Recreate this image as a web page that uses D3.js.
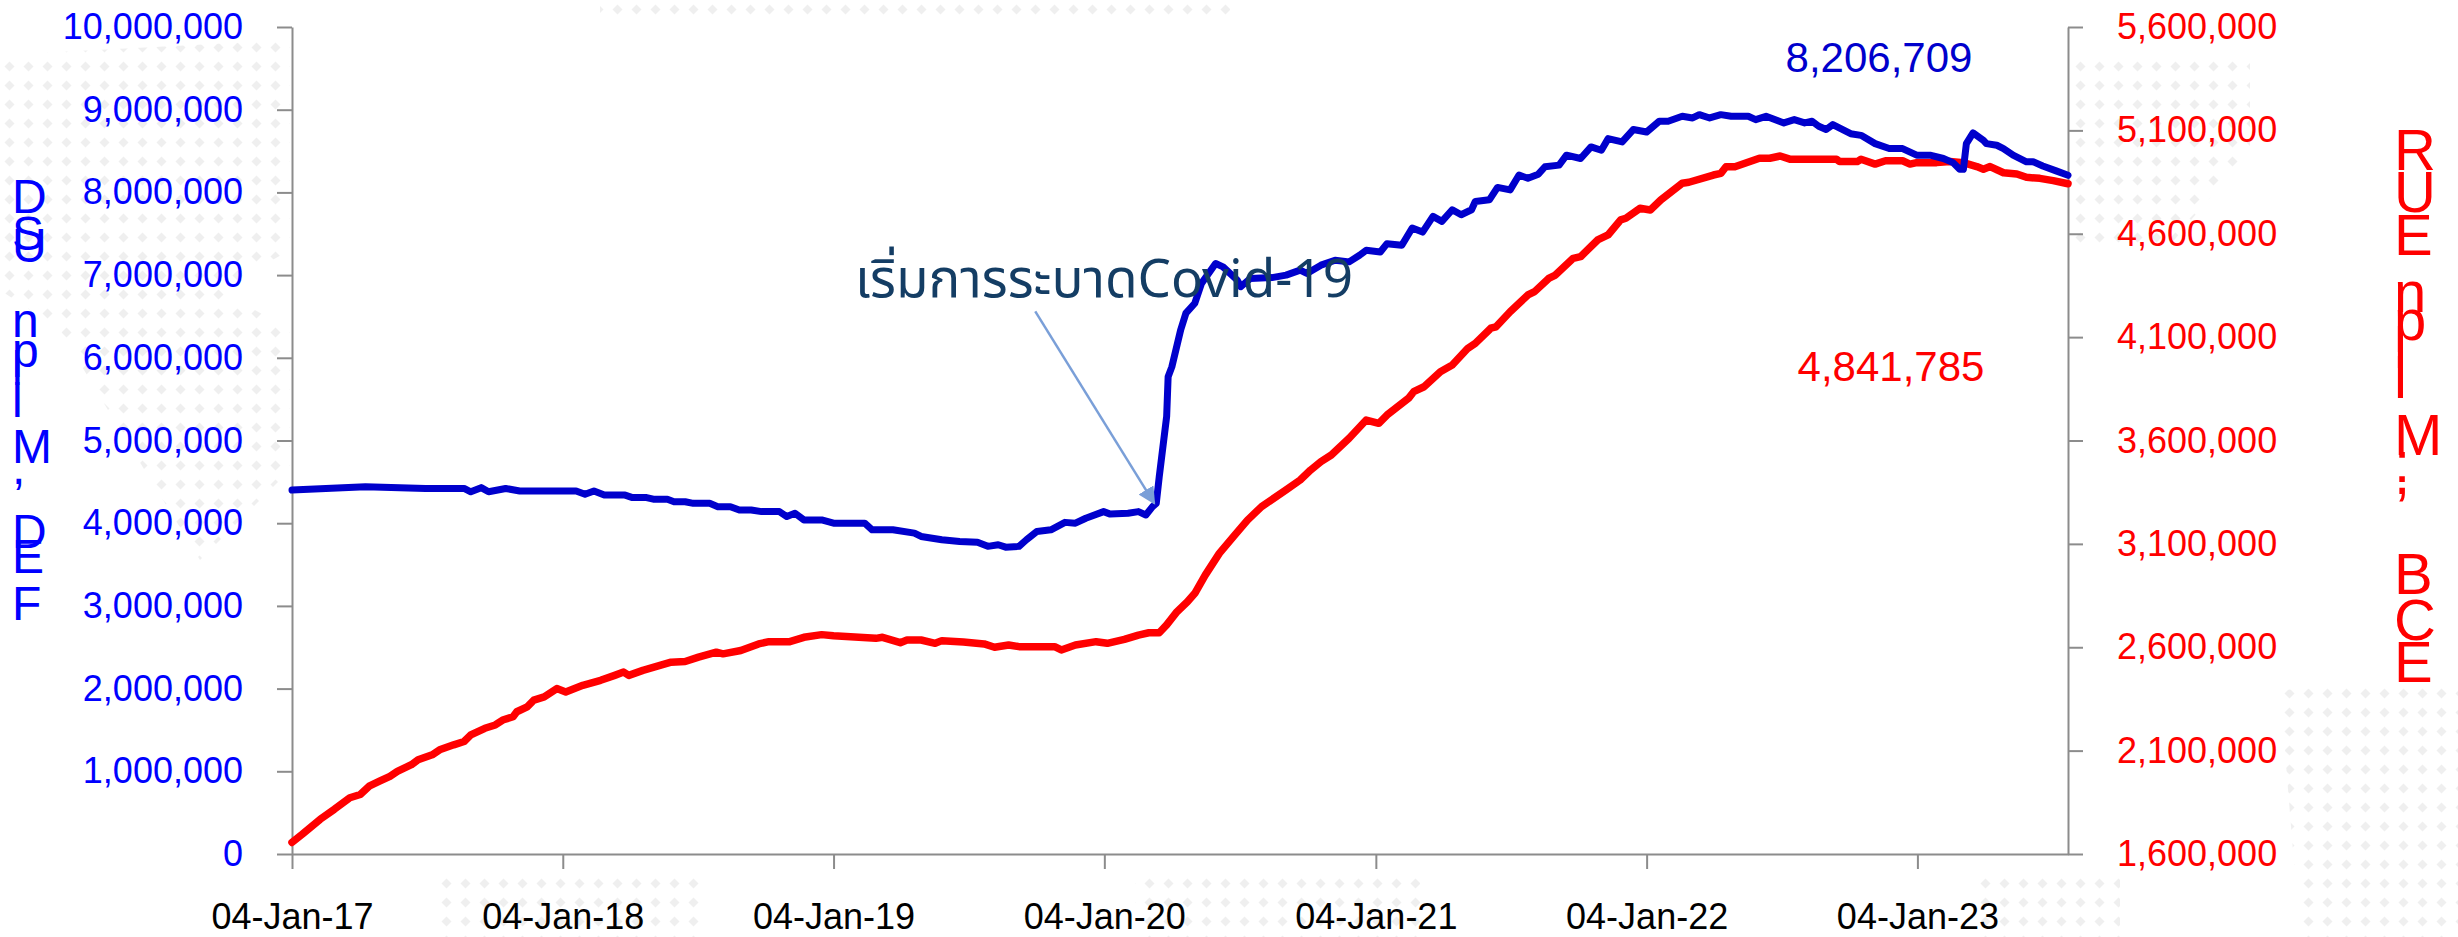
<!DOCTYPE html>
<html>
<head>
<meta charset="utf-8">
<script src="https://cdn.jsdelivr.net/npm/d3@7"></script>
<style>
  html, body { margin: 0; padding: 0; background: #fff; }
  svg { display: block; }
  .tick text { font-family: "Liberation Sans", Arial, sans-serif; }
</style>
</head>
<body>
<svg width="2458" height="937"></svg>
<script>
// tick labels / categories
const yearTicks = ['2017-01-04', '2018-01-04', '2019-01-04', '2020-01-04', '2021-01-04', '2022-01-04', '2023-01-04']
const leftTicks = [0, 1e6, 2e6, 3e6, 4e6, 5e6, 6e6, 7e6, 8e6, 9e6, 10e6]
const rightTicks = [1.6e6, 2.1e6, 2.6e6, 3.1e6, 3.6e6, 4.1e6, 4.6e6, 5.1e6, 5.6e6]

// blue series (left axis), values in millions
const blueDates = [
  '2017-01-04', '2017-04-13', '2017-07-03', '2017-08-24', '2017-09-02', '2017-09-16', '2017-09-26', '2017-10-19',
  '2017-11-07', '2017-12-20', '2018-01-22', '2018-02-03', '2018-02-15', '2018-03-01', '2018-03-29', '2018-04-08',
  '2018-04-27', '2018-05-06', '2018-05-25', '2018-06-03', '2018-06-18', '2018-06-29', '2018-07-21', '2018-08-01',
  '2018-08-18', '2018-08-30', '2018-09-15', '2018-09-29', '2018-10-23', '2018-11-02', '2018-11-13', '2018-11-25',
  '2018-12-19', '2019-01-04', '2019-02-15', '2019-02-25', '2019-03-25', '2019-04-23', '2019-05-02', '2019-05-30',
  '2019-06-23', '2019-07-17', '2019-07-31', '2019-08-14', '2019-08-24', '2019-09-11', '2019-09-21', '2019-10-05',
  '2019-10-24', '2019-11-12', '2019-11-26', '2019-12-10', '2020-01-03', '2020-01-12', '2020-02-05', '2020-02-19',
  '2020-02-29', '2020-03-09', '2020-03-14', '2020-03-18', '2020-03-28', '2020-03-30', '2020-04-04', '2020-04-16',
  '2020-04-23', '2020-05-05', '2020-05-14', '2020-06-02', '2020-06-12', '2020-07-01', '2020-07-06', '2020-07-19',
  '2020-08-17', '2020-09-05', '2020-09-24', '2020-10-03', '2020-10-22', '2020-11-10', '2020-11-29', '2020-12-13',
  '2020-12-22', '2021-01-10', '2021-01-19', '2021-02-08', '2021-02-22', '2021-03-08', '2021-03-22', '2021-04-03',
  '2021-04-17', '2021-04-29', '2021-05-13', '2021-05-18', '2021-06-06', '2021-06-17', '2021-07-04', '2021-07-16',
  '2021-07-28', '2021-08-11', '2021-08-20', '2021-09-08', '2021-09-18', '2021-10-07', '2021-10-21', '2021-11-04',
  '2021-11-13', '2021-12-02', '2021-12-17', '2022-01-04', '2022-01-21', '2022-02-02', '2022-02-21', '2022-03-07',
  '2022-03-16', '2022-03-30', '2022-04-14', '2022-04-28', '2022-05-21', '2022-05-31', '2022-06-14', '2022-07-08',
  '2022-07-22', '2022-08-05', '2022-08-15', '2022-08-24', '2022-09-03', '2022-09-12', '2022-10-06', '2022-10-20',
  '2022-11-08', '2022-11-27', '2022-12-15', '2023-01-03', '2023-01-21', '2023-02-08', '2023-02-21', '2023-03-02',
  '2023-03-07', '2023-03-11', '2023-03-20', '2023-04-03', '2023-04-07', '2023-04-21', '2023-04-30', '2023-05-13',
  '2023-05-31', '2023-06-09', '2023-06-22', '2023-07-10', '2023-07-26'
]
const blueValues = [
  4.40, 4.44, 4.42, 4.42, 4.38, 4.43, 4.38, 4.42,
  4.39, 4.39, 4.39, 4.35, 4.39, 4.34, 4.34, 4.31,
  4.31, 4.29, 4.29, 4.26, 4.26, 4.24, 4.24, 4.20,
  4.20, 4.16, 4.16, 4.14, 4.14, 4.08, 4.12, 4.04,
  4.04, 4.00, 4.00, 3.92, 3.92, 3.88, 3.84, 3.80,
  3.78, 3.77, 3.72, 3.74, 3.71, 3.72, 3.80, 3.90,
  3.92, 4.01, 4.00, 4.06, 4.14, 4.11, 4.12, 4.14,
  4.10, 4.20, 4.24, 4.56, 5.29, 5.77, 5.89, 6.34,
  6.54, 6.66, 6.90, 7.14, 7.10, 6.94, 6.86, 6.96,
  6.97, 7.00, 7.06, 7.02, 7.12, 7.18, 7.16, 7.24,
  7.30, 7.28, 7.38, 7.36, 7.57, 7.52, 7.71, 7.65,
  7.79, 7.73, 7.79, 7.89, 7.91, 8.06, 8.03, 8.21,
  8.17, 8.22, 8.31, 8.33, 8.45, 8.41, 8.55, 8.51,
  8.65, 8.61, 8.76, 8.73, 8.86, 8.86, 8.92, 8.90,
  8.94, 8.90, 8.94, 8.92, 8.92, 8.88, 8.92, 8.84,
  8.88, 8.84, 8.86, 8.80, 8.76, 8.82, 8.71, 8.69,
  8.59, 8.53, 8.53, 8.45, 8.45, 8.41, 8.36, 8.28,
  8.28, 8.59, 8.72, 8.63, 8.59, 8.57, 8.53, 8.45,
  8.37, 8.37, 8.32, 8.26, 8.206709
]

// red series (right axis), values in millions
const redDates = [
  '2017-01-04', '2017-01-18', '2017-02-11', '2017-03-02', '2017-03-23', '2017-04-06', '2017-04-18', '2017-05-02',
  '2017-05-16', '2017-05-26', '2017-06-14', '2017-06-23', '2017-07-12', '2017-07-22', '2017-08-10', '2017-08-24',
  '2017-09-02', '2017-09-21', '2017-10-05', '2017-10-15', '2017-10-29', '2017-11-03', '2017-11-17', '2017-11-26',
  '2017-12-10', '2017-12-27', '2018-01-08', '2018-01-31', '2018-02-24', '2018-03-15', '2018-03-27', '2018-04-03',
  '2018-04-22', '2018-05-15', '2018-05-30', '2018-06-18', '2018-07-06', '2018-07-30', '2018-08-08', '2018-09-01',
  '2018-09-25', '2018-10-09', '2018-11-06', '2018-11-25', '2018-12-19', '2019-01-04', '2019-03-02', '2019-03-11',
  '2019-04-04', '2019-04-13', '2019-05-02', '2019-05-21', '2019-05-30', '2019-06-28', '2019-07-26', '2019-08-09',
  '2019-08-28', '2019-09-11', '2019-10-29', '2019-11-07', '2019-11-26', '2019-12-24', '2020-01-08', '2020-01-31',
  '2020-02-19', '2020-03-04', '2020-03-18', '2020-03-28', '2020-04-11', '2020-04-25', '2020-05-05', '2020-05-19',
  '2020-06-07', '2020-06-26', '2020-07-15', '2020-08-03', '2020-09-05', '2020-09-24', '2020-10-08', '2020-10-22',
  '2020-11-05', '2020-11-29', '2020-12-22', '2021-01-08', '2021-01-19', '2021-02-17', '2021-02-24', '2021-03-10',
  '2021-04-01', '2021-04-17', '2021-05-08', '2021-05-18', '2021-06-08', '2021-06-15', '2021-07-04', '2021-07-28',
  '2021-08-06', '2021-08-25', '2021-09-03', '2021-09-27', '2021-10-07', '2021-10-30', '2021-11-13', '2021-11-30',
  '2021-12-07', '2021-12-26', '2022-01-09', '2022-01-23', '2022-02-21', '2022-03-02', '2022-04-04', '2022-04-14',
  '2022-04-21', '2022-05-03', '2022-06-05', '2022-06-19', '2022-07-03', '2022-07-17', '2022-09-17', '2022-09-21',
  '2022-10-15', '2022-10-20', '2022-11-08', '2022-11-22', '2022-12-15', '2022-12-25', '2023-01-03', '2023-01-30',
  '2023-02-17', '2023-03-07', '2023-03-25', '2023-04-03', '2023-04-12', '2023-04-30', '2023-05-18', '2023-05-31',
  '2023-06-18', '2023-07-06', '2023-07-26'
]
const redValues = [
  1.656, 1.696, 1.768, 1.816, 1.872, 1.888, 1.928, 1.952,
  1.976, 2.000, 2.032, 2.056, 2.080, 2.104, 2.128, 2.144,
  2.176, 2.208, 2.224, 2.248, 2.264, 2.288, 2.312, 2.344,
  2.360, 2.400, 2.384, 2.416, 2.440, 2.464, 2.480, 2.464,
  2.488, 2.512, 2.528, 2.531, 2.552, 2.576, 2.568, 2.584,
  2.616, 2.627, 2.627, 2.648, 2.661, 2.656, 2.643, 2.648,
  2.622, 2.635, 2.635, 2.619, 2.632, 2.625, 2.616, 2.600,
  2.611, 2.603, 2.603, 2.587, 2.611, 2.627, 2.619, 2.638,
  2.659, 2.670, 2.670, 2.708, 2.772, 2.820, 2.861, 2.949,
  3.054, 3.135, 3.215, 3.280, 3.361, 3.409, 3.457, 3.498,
  3.530, 3.611, 3.699, 3.683, 3.723, 3.804, 3.836, 3.860,
  3.933, 3.965, 4.046, 4.070, 4.143, 4.150, 4.223, 4.304,
  4.320, 4.384, 4.400, 4.481, 4.489, 4.570, 4.594, 4.667,
  4.675, 4.723, 4.715, 4.763, 4.844, 4.849, 4.884, 4.892,
  4.924, 4.924, 4.965, 4.965, 4.976, 4.960, 4.960, 4.949,
  4.949, 4.960, 4.937, 4.953, 4.953, 4.937, 4.944, 4.944,
  4.949, 4.944, 4.925, 4.912, 4.925, 4.895, 4.889, 4.873,
  4.868, 4.857, 4.841785
]

const covidDate = '2020-03-14'
const covidText = 'เริ่มการระบาดCovid-19'

const parse = d3.timeParse('%Y-%m-%d')
const blue = blueDates.map((d, i) => ({ date: parse(d), value: blueValues[i] * 1e6 }))
const red = redDates.map((d, i) => ({ date: parse(d), value: redValues[i] * 1e6 }))

const plotLeft = 292, plotRight = 2068, plotTop = 27, plotBottom = 854

const x = d3.scaleTime().domain([parse('2017-01-04'), parse('2023-07-26')]).range([plotLeft, plotRight])
const yLeft = d3.scaleLinear().domain([0, 10e6]).range([plotBottom, plotTop])
const yRight = d3.scaleLinear().domain([1.6e6, 5.6e6]).range([plotBottom, plotTop])

const svg = d3.select('svg')

// faint dotted world-map watermark
const defs = svg.append('defs')
const pat = defs.append('pattern')
  .attr('id', 'dots').attr('patternUnits', 'userSpaceOnUse')
  .attr('width', 19).attr('height', 19)
pat.append('path').attr('d', 'M9.5,4.5 L14.5,9.5 L9.5,14.5 L4.5,9.5 Z').attr('fill', '#efefef')

const blobs = [
  [[0, 55], [290, 40], [290, 250], [220, 290], [290, 330], [290, 470], [200, 560], [120, 430], [60, 330], [0, 290]],
  [[600, 0], [1230, 0], [1230, 22], [600, 22]],
  [[440, 872], [700, 872], [700, 937], [440, 937]],
  [[1135, 872], [1420, 872], [1420, 937], [1135, 937]],
  [[1975, 872], [2120, 872], [2120, 937], [1975, 937]],
  [[2070, 60], [2250, 60], [2250, 150], [2170, 245], [2070, 245]],
  [[2280, 690], [2458, 680], [2458, 937], [2300, 937]]
]
svg.append('g').selectAll('path').data(blobs).join('path')
  .attr('d', p => 'M' + p.join('L') + 'Z')
  .attr('fill', 'url(#dots)')

svg.append('rect')
  .attr('x', plotLeft).attr('y', plotTop)
  .attr('width', plotRight - plotLeft).attr('height', plotBottom - plotTop)
  .attr('fill', '#fff')

// axes
const fmt = d3.format(',')
const styleAxis = (g, color) => {
  g.select('.domain').attr('stroke', '#8c8c8c').attr('stroke-width', 2)
  g.selectAll('.tick line').attr('stroke', '#8c8c8c').attr('stroke-width', 2)
  g.selectAll('.tick text').attr('fill', color).attr('font-size', 36)
}

svg.append('g')
  .attr('transform', 'translate(0,' + plotBottom + ')')
  .call(d3.axisBottom(x).tickValues(yearTicks.map(parse)).tickFormat(d3.timeFormat('%d-%b-%y'))
    .tickSize(15).tickSizeOuter(0).tickPadding(34))
  .call(g => styleAxis(g, '#000'))

svg.append('g')
  .attr('transform', 'translate(' + plotLeft + ',0)')
  .call(d3.axisLeft(yLeft).tickValues(leftTicks).tickFormat(fmt).tickSize(15).tickSizeOuter(0).tickPadding(34))
  .call(g => styleAxis(g, '#0000ff'))

svg.append('g')
  .attr('transform', 'translate(' + plotRight + ',0)')
  .call(d3.axisRight(yRight).tickValues(rightTicks).tickFormat(fmt).tickSize(15).tickSizeOuter(0).tickPadding(34))
  .call(g => styleAxis(g, '#ff0000'))

// lines
const lineLeft = d3.line().x(d => x(d.date)).y(d => yLeft(d.value))
const lineRight = d3.line().x(d => x(d.date)).y(d => yRight(d.value))

svg.append('path').datum(red)
  .attr('d', lineRight)
  .attr('fill', 'none').attr('stroke', '#ff0000').attr('stroke-width', 7.5)
  .attr('stroke-linejoin', 'round').attr('stroke-linecap', 'round')

svg.append('path').datum(blue)
  .attr('d', lineLeft)
  .attr('fill', 'none').attr('stroke', '#0000cc').attr('stroke-width', 7)
  .attr('stroke-linejoin', 'round').attr('stroke-linecap', 'round')

// last-value labels
const lastBlue = blue[blue.length - 1]
const lastRed = red[red.length - 1]
svg.append('text')
  .attr('x', x(lastBlue.date) - 189).attr('y', yLeft(lastBlue.value) - 103)
  .attr('text-anchor', 'middle')
  .attr('font-family', 'Liberation Sans, Arial, sans-serif').attr('font-size', 42)
  .attr('fill', '#0000cc')
  .text(fmt(Math.round(lastBlue.value)))

svg.append('text')
  .attr('x', x(lastRed.date) - 177).attr('y', yRight(lastRed.value) + 197)
  .attr('text-anchor', 'middle')
  .attr('font-family', 'Liberation Sans, Arial, sans-serif').attr('font-size', 42)
  .attr('fill', '#ff0000')
  .text(fmt(Math.round(lastRed.value)))

// covid annotation
const covidPoint = blue.find(d => +d.date === +parse(covidDate))
const tipX = x(covidPoint.date) - 2, tipY = yLeft(covidPoint.value)
defs.append('marker')
  .attr('id', 'head').attr('viewBox', '0 0 10 10')
  .attr('refX', 9).attr('refY', 5)
  .attr('markerWidth', 7).attr('markerHeight', 7)
  .attr('markerUnits', 'strokeWidth')
  .attr('orient', 'auto')
  .append('path').attr('d', 'M0,0 L10,5 L0,10 Z').attr('fill', '#7a9fd8')

svg.append('line')
  .attr('x1', tipX - 119).attr('y1', tipY - 192)
  .attr('x2', tipX).attr('y2', tipY)
  .attr('stroke', '#7a9fd8').attr('stroke-width', 2.5)
  .attr('marker-end', 'url(#head)')

svg.append('text')
  .attr('x', 1104).attr('y', 297)
  .attr('text-anchor', 'middle')
  .attr('font-family', '"Noto Sans Thai", "Noto Sans Thai UI", "Noto Sans", "DejaVu Sans", sans-serif')
  .attr('font-size', 53)
  .attr('fill', '#143d64')
  .text(covidText)

// garbled axis titles, letters stacked as in the source
const leftTitle = [['D', 213], ['S', 250], ['U', 262], ['n', 337], ['p', 367], ['l', 385], ['l', 417],
  ['M', 463], [',', 484], ['D', 548], ['E', 573], ['F', 620]]
const rightTitle = [['R', 170], ['U', 212], ['E', 255], ['n', 312], ['p', 340], ['l', 368], ['l', 398],
  ['M', 455], [':', 482], [',', 494], ['B', 594], ['C', 640], ['E', 682]]

svg.append('g').selectAll('text').data(leftTitle).join('text')
  .attr('x', 12).attr('y', d => d[1])
  .attr('font-family', 'Liberation Sans, Arial, sans-serif').attr('font-size', 48)
  .attr('fill', '#0000ff')
  .text(d => d[0])

svg.append('g').selectAll('text').data(rightTitle).join('text')
  .attr('x', 2394).attr('y', d => d[1])
  .attr('font-family', 'Liberation Sans, Arial, sans-serif').attr('font-size', 58)
  .attr('fill', '#ff0000')
  .text(d => d[0])
</script>
</body>
</html>
